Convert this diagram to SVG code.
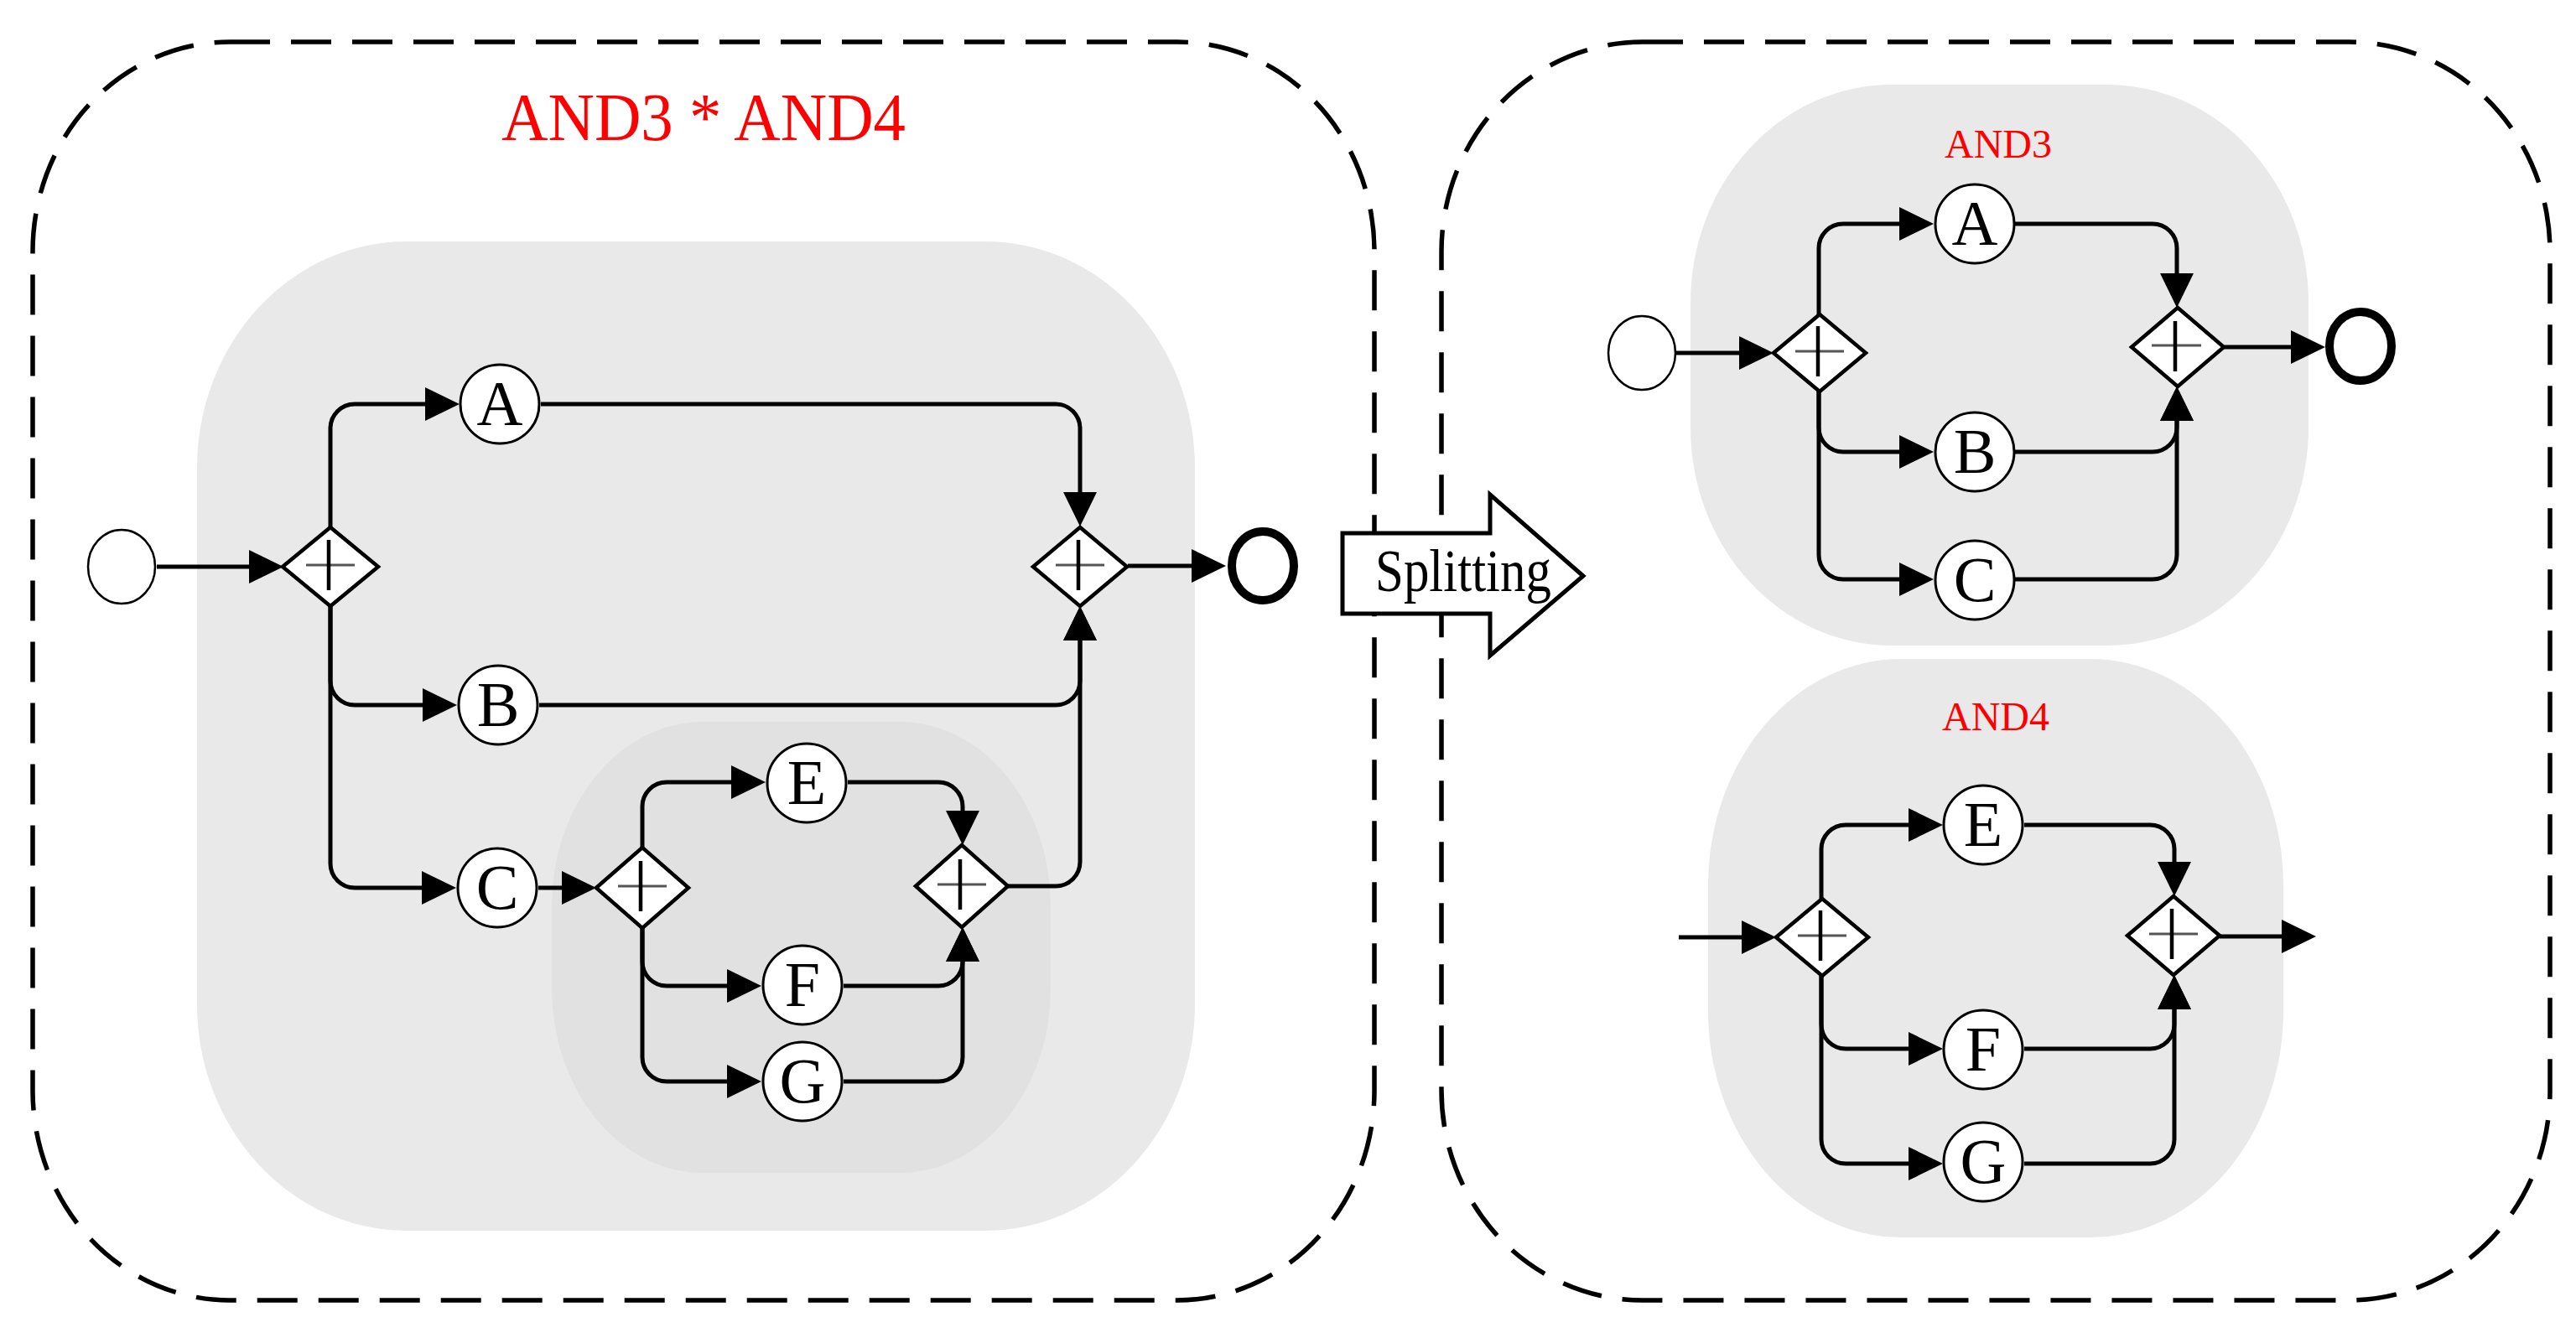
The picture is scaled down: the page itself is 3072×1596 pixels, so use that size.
<svg xmlns="http://www.w3.org/2000/svg" width="3072" height="1596" viewBox="0 0 3072 1596">
<style>
.frame{fill:none;stroke:#000;stroke-width:5.5;stroke-dasharray:48 25}
.region{fill:#e9e9e9}
.region2{fill:#e1e1e1}
.task{fill:#fff;stroke:#000;stroke-width:3}
.start{fill:#fff;stroke:#000;stroke-width:2.5}
.end{fill:#fff;stroke:#000;stroke-width:10}
.gw{fill:#fff;stroke:#000;stroke-width:4.5;stroke-linejoin:miter}
.ph{stroke:#555;stroke-width:3}
.pv{stroke:#000;stroke-width:4.5}
.lbl{font-family:"Liberation Serif","Times New Roman",serif;font-size:76px;text-anchor:middle;fill:#000}
.red{font-family:"Liberation Serif","Times New Roman",serif;text-anchor:middle;fill:#ff0000}
.edge{fill:none;stroke:#000;stroke-width:5;marker-end:url(#arr)}
</style>
<defs>
<marker id="arr" markerUnits="userSpaceOnUse" markerWidth="42" markerHeight="42" viewBox="0 0 42 42" refX="35" refY="21" orient="auto">
<path d="M0,1 L41,21 L0,41 z" fill="#000"/>
</marker>
</defs>
<rect width="3072" height="1596" fill="#fff"/>

<g id="frame-left"><rect class="frame" x="39" y="50" width="1600" height="1501" rx="235" ry="250"/></g>
<g id="frame-right"><rect class="frame" x="1719" y="50" width="1322" height="1501" rx="240" ry="250"/></g>

<g id="region-left"><rect class="region" x="235" y="288" width="1190" height="1180" rx="250" ry="270"/></g>
<g id="region-left-inner"><rect class="region2" x="658" y="861" width="595" height="538" rx="180" ry="220"/></g>
<g id="region-and3"><rect class="region" x="2016" y="101" width="737" height="669" rx="240" ry="260"/></g>
<g id="region-and4"><rect class="region" x="2037" y="786" width="686" height="690" rx="230" ry="270"/></g>

<g id="title-left"><text class="red" x="839" y="167" font-size="81" textLength="482" lengthAdjust="spacingAndGlyphs">AND3 * AND4</text></g>
<g id="title-and3"><text class="red" x="2383" y="188" font-size="48">AND3</text></g>
<g id="title-and4"><text class="red" x="2380" y="871" font-size="48">AND4</text></g>

<g id="connectors">
<path class="edge" d="M187,676 H332"/>
<path class="edge" d="M394,629 V511 A29,29 0 0 1 423,482 H542"/>
<path class="edge" d="M394,723 V812 A29,29 0 0 0 423,841 H539"/>
<path class="edge" d="M394,723 V1030 A29,29 0 0 0 423,1059 H538"/>
<path class="edge" d="M645,482 H1259 A29,29 0 0 1 1288,511 V622"/>
<path class="edge" d="M643,841 H1259 A29,29 0 0 0 1288,812 V729"/>
<path class="edge" d="M1202,1057 H1259 A29,29 0 0 0 1288,1028 V729"/>
<path class="edge" d="M642,1059 H705"/>
<path class="edge" d="M766,1011 V962 A29,29 0 0 1 795,933 H907"/>
<path class="edge" d="M766,1107 V1147 A29,29 0 0 0 795,1176 H902"/>
<path class="edge" d="M766,1107 V1261 A29,29 0 0 0 795,1290 H902"/>
<path class="edge" d="M1011,933 H1119 A29,29 0 0 1 1148,962 V1002"/>
<path class="edge" d="M1006,1176 H1119 A29,29 0 0 0 1148,1147 V1112"/>
<path class="edge" d="M1006,1290 H1119 A29,29 0 0 0 1148,1261 V1112"/>
<path class="edge" d="M1345,675 H1456"/>

<path class="edge" d="M1999,421 H2109"/>
<path class="edge" d="M2169,375 V296 A29,29 0 0 1 2198,267 H2300"/>
<path class="edge" d="M2169,467 V510 A29,29 0 0 0 2198,539 H2300"/>
<path class="edge" d="M2169,467 V662 A29,29 0 0 0 2198,691 H2300"/>
<path class="edge" d="M2403,267 H2567 A29,29 0 0 1 2596,296 V361"/>
<path class="edge" d="M2403,539 H2567 A29,29 0 0 0 2596,510 V467"/>
<path class="edge" d="M2403,691 H2567 A29,29 0 0 0 2596,662 V467"/>
<path class="edge" d="M2652,414 H2767"/>

<path class="edge" d="M2002,1118 H2112"/>
<path class="edge" d="M2172,1072 V1013 A29,29 0 0 1 2201,984 H2311"/>
<path class="edge" d="M2172,1164 V1222 A29,29 0 0 0 2201,1251 H2311"/>
<path class="edge" d="M2172,1164 V1359 A29,29 0 0 0 2201,1388 H2311"/>
<path class="edge" d="M2414,984 H2564 A29,29 0 0 1 2593,1013 V1063"/>
<path class="edge" d="M2414,1251 H2564 A29,29 0 0 0 2593,1222 V1169"/>
<path class="edge" d="M2414,1388 H2564 A29,29 0 0 0 2593,1359 V1169"/>
<path class="edge" d="M2647,1117 H2756"/>
</g>

<g id="start-L"><ellipse class="start" cx="145" cy="676" rx="40" ry="44"/></g>
<g id="gw-split-L"><path class="gw" d="M337,676 L394,629 L451,676 L394,723 z"/><line class="ph" x1="365" y1="674" x2="423" y2="674"/><line class="pv" x1="392" y1="644" x2="392" y2="704"/></g>
<g id="task-A-L"><circle class="task" cx="596" cy="482" r="47"/><text class="lbl" x="596" y="507">A</text></g>
<g id="task-B-L"><circle class="task" cx="594" cy="841" r="47"/><text class="lbl" x="594" y="866">B</text></g>
<g id="task-C-L"><circle class="task" cx="593" cy="1059" r="47"/><text class="lbl" x="593" y="1084">C</text></g>
<g id="gw-join-L"><path class="gw" d="M1232,676 L1288,629 L1344,676 L1288,723 z"/><line class="ph" x1="1259" y1="674" x2="1317" y2="674"/><line class="pv" x1="1286" y1="644" x2="1286" y2="704"/></g>
<g id="end-L"><ellipse class="end" cx="1506" cy="675" rx="37" ry="41"/></g>
<g id="gw-split2-L"><path class="gw" d="M711,1059 L766,1011 L821,1059 L766,1107 z"/><line class="ph" x1="737" y1="1057" x2="795" y2="1057"/><line class="pv" x1="764" y1="1027" x2="764" y2="1087"/></g>
<g id="task-E-L"><circle class="task" cx="962" cy="934" r="47"/><text class="lbl" x="962" y="959">E</text></g>
<g id="task-F-L"><circle class="task" cx="957" cy="1175" r="47"/><text class="lbl" x="957" y="1200">F</text></g>
<g id="task-G-L"><circle class="task" cx="957" cy="1290" r="47"/><text class="lbl" x="957" y="1315">G</text></g>
<g id="gw-join2-L"><path class="gw" d="M1092,1057 L1147,1008 L1202,1057 L1147,1106 z"/><line class="ph" x1="1118" y1="1055" x2="1176" y2="1055"/><line class="pv" x1="1145" y1="1025" x2="1145" y2="1085"/></g>

<g id="splitting">
<path d="M1601,636 L1777,636 L1777,590 L1888,687 L1777,782 L1777,732 L1601,732 z" fill="#fff" stroke="#000" stroke-width="5" stroke-linejoin="miter"/>
<text x="1745" y="705" font-family="'Liberation Serif','Times New Roman',serif" font-size="71" text-anchor="middle" textLength="210" lengthAdjust="spacingAndGlyphs">Splitting</text>
</g>

<g id="start-R"><ellipse class="start" cx="1958" cy="421" rx="40" ry="44"/></g>
<g id="gw-split-AND3"><path class="gw" d="M2115,421 L2170,375 L2225,421 L2170,467 z"/><line class="ph" x1="2141" y1="419" x2="2199" y2="419"/><line class="pv" x1="2168" y1="389" x2="2168" y2="449"/></g>
<g id="task-A-R"><circle class="task" cx="2355" cy="267" r="47"/><text class="lbl" x="2355" y="292">A</text></g>
<g id="task-B-R"><circle class="task" cx="2355" cy="539" r="47"/><text class="lbl" x="2355" y="564">B</text></g>
<g id="task-C-R"><circle class="task" cx="2355" cy="692" r="47"/><text class="lbl" x="2355" y="717">C</text></g>
<g id="gw-join-AND3"><path class="gw" d="M2542,414 L2597,367 L2652,414 L2597,461 z"/><line class="ph" x1="2566" y1="412" x2="2625" y2="412"/><line class="pv" x1="2594" y1="383" x2="2594" y2="443"/></g>
<g id="end-R"><ellipse class="end" cx="2815" cy="413" rx="37" ry="41"/></g>

<g id="gw-split-AND4"><path class="gw" d="M2118,1118 L2173,1072 L2228,1118 L2173,1164 z"/><line class="ph" x1="2144" y1="1116" x2="2202" y2="1116"/><line class="pv" x1="2171" y1="1086" x2="2171" y2="1146"/></g>
<g id="task-E-R"><circle class="task" cx="2365" cy="984" r="47"/><text class="lbl" x="2365" y="1009">E</text></g>
<g id="task-F-R"><circle class="task" cx="2365" cy="1252" r="47"/><text class="lbl" x="2365" y="1277">F</text></g>
<g id="task-G-R"><circle class="task" cx="2365" cy="1386" r="47"/><text class="lbl" x="2365" y="1411">G</text></g>
<g id="gw-join-AND4"><path class="gw" d="M2537,1116 L2592,1069 L2647,1116 L2592,1163 z"/><line class="ph" x1="2563" y1="1114" x2="2621" y2="1114"/><line class="pv" x1="2590" y1="1084" x2="2590" y2="1144"/></g>
</svg>
